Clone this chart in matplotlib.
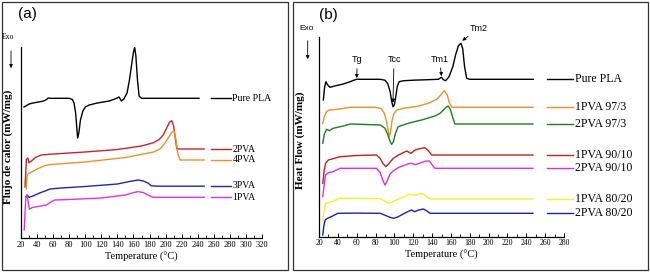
import matplotlib
matplotlib.use('Agg')
import matplotlib.pyplot as plt
from matplotlib.patches import Rectangle
from matplotlib.ticker import MultipleLocator

# ---------------- panel (a) data: temperature (°C) vs stacked heat flow ----------------
a_pla_t = [23.7, 26, 30, 35, 42, 48, 51, 54, 56, 60, 70, 80, 84, 86, 88, 89.5, 90.5, 92, 94, 97,
           100, 105, 115, 130, 139, 142, 145, 148, 152, 155, 158, 160, 161.5, 163, 165, 167, 170, 200, 241.6]
a_pla_y = [131, 132, 134, 135, 136, 137, 138, 140, 139.7, 139.7, 139.7, 139.7, 138.5, 135, 125, 110, 100, 105, 118, 127,
           131, 133, 135, 137, 139.7, 141, 137, 139, 145, 158, 175, 186, 190.7, 182, 158, 142, 139.7, 139.7, 139.7]

a_2pva_t = [25, 26.7, 28.5, 30, 33, 38, 45, 60, 100, 140, 170, 185, 192, 197, 202, 205, 207.6, 210, 212, 214, 218, 248]
a_2pva_y = [51, 78.7, 80, 75.3, 77, 80.5, 83, 84, 86, 88.5, 92, 95.3, 98.5, 103, 111, 116, 117.3, 112, 100, 89, 89, 89]

a_4pva_t = [26.7, 27.5, 29, 31.7, 40, 50, 60, 100, 150, 185, 193, 199, 204, 208, 210.5, 213, 215, 218, 248]
a_4pva_y = [49, 62, 64.5, 65.3, 69, 72.5, 73.7, 76, 80.5, 86, 89, 94.7, 101, 106, 107.3, 98, 85, 78, 78]

a_3pva_t = [26, 27.5, 30, 35, 44, 50, 56, 70, 100, 140, 155, 166, 172, 178, 182, 190, 200, 248]
a_3pva_y = [41.3, 43, 40.7, 42, 45.3, 47, 49, 50, 51.5, 54, 56.5, 58, 57, 55, 52.3, 51.8, 51.8, 51.8]

a_1pva_t = [24, 25, 26, 27.5, 29, 30.5, 34, 40, 48, 52, 56, 62, 80, 120, 150, 160, 166, 172, 178, 184, 195, 248]
a_1pva_y = [8, 25, 40, 43, 36, 28.7, 30.5, 31.3, 32.5, 33, 35.5, 38, 38.5, 40, 43, 45.5, 46.3, 45.5, 43, 40.7, 40.7, 40.7]

a_labels = ['Pure PLA', '2PVA', '4PVA', '3PVA', '1PVA']
a_levels = [139.7, 89, 78, 52.3, 40.7]
a_colors = ['black', '#c4262e', '#e8922c', '#2424b0', '#e033e0']

# ---------------- panel (b) data ----------------
b_pla_t = [24.6, 26, 27.4, 29, 31.7, 36.6, 45, 53, 57, 60, 70, 85, 90, 93, 95.5, 97, 98.5, 100, 101.5, 103,
           105, 110, 120, 135, 146.6, 150, 152, 154.4, 158, 162, 165, 168, 170.7, 172.5, 174.5, 176.7, 180, 200, 247.4]
b_pla_y = [136.7, 150, 155, 152, 149.4, 150.7, 152.5, 155, 156.5, 157.4, 157.4, 157.4, 156.5, 153, 145, 136, 130, 132, 140, 150,
           155, 156, 156.5, 157, 157.4, 159.4, 157, 156, 160, 170, 182, 191, 193.4, 188, 170, 158.4, 157.4, 157.4, 157.4]

b_1pva97_t = [24, 25.5, 28, 31, 40, 53, 60, 80, 86, 89, 91.5, 93, 94.6, 96, 97.5, 99.5, 102.4, 110, 125, 136,
              145, 149, 153, 156, 158, 160.8, 165, 247]
b_1pva97_y = [113.4, 120, 125, 126.7, 127.5, 129.4, 129.4, 129.4, 128, 124, 116, 108, 100, 105, 116, 123, 126.7, 128.5, 130.5, 133.4,
              137.4, 141.5, 146, 142, 135, 129.4, 129.4, 129.4]

b_2pva97_t = [24, 25.5, 28, 31, 35, 45, 53, 70, 85, 90, 93, 95.5, 97.1, 99, 101, 104, 115, 130, 143, 148.4,
              152, 155, 157.2, 159.5, 162, 164.3, 170, 247]
b_2pva97_y = [93.4, 102, 107.4, 106, 108.4, 110.5, 112.7, 112.2, 111.7, 108.5, 102, 95, 92.4, 95, 103, 110, 113.5, 117, 120.7, 123.4,
              126.5, 129.5, 130.7, 127, 119, 112.7, 112.7, 112.7]

b_1pva90_t = [24, 25.5, 27, 30, 35, 42.3, 60, 81.2, 85, 88, 91, 94, 98.9, 104, 109.4, 113, 117.6, 121.9, 127, 132.5,
              136, 139.6, 145, 247]
b_1pva90_y = [53.4, 66, 73.4, 76.7, 78, 80, 81.2, 81.7, 78, 73, 70, 73, 78.4, 81.5, 84, 85.7, 83.4, 86.7, 88, 89,
              86, 81.7, 81.7, 81.7]

b_2pva90_t = [24, 25.5, 27, 30, 35, 42.3, 60, 81, 85, 87.5, 90, 92.5, 95, 98.9, 105, 111, 115, 118.3, 122.6, 128,
              133, 137, 140, 143, 150, 247]
b_2pva90_y = [40, 52, 61.7, 64, 65, 68.4, 68.4, 68.4, 64, 57, 51.7, 56, 62, 66, 69.5, 71.5, 73, 73.4, 72, 74,
              75.5, 75.7, 72, 68.4, 68.4, 68.4]

b_1pva80_t = [24, 25.5, 27, 30, 35, 42, 60, 85, 90, 93.2, 97, 104, 111, 115, 118.3, 121, 125, 129, 132, 135,
              139, 145, 247]
b_1pva80_y = [16.7, 27, 33.4, 34, 35.5, 38.4, 38.4, 38, 35.5, 33.5, 34.5, 37.5, 40, 42, 42.5, 41, 42.5, 43, 42, 39,
              37.7, 37.7, 37.7]

b_2pva80_t = [24, 25, 26.5, 29, 33, 40, 60, 85, 90, 95, 98.9, 103, 108, 113, 118.3, 121.5, 125, 130.8, 134, 137.8,
              145, 247]
b_2pva80_y = [1.7, 10, 16.7, 18.4, 20, 23.4, 23.6, 23.4, 21.5, 19.5, 18.4, 19.5, 22, 24.5, 26.7, 25, 26.5, 27.7, 26, 23.4,
              23.4, 23.4]

b_labels = ['Pure PLA', '1PVA 97/3', '2PVA 97/3', '1PVA 90/10', '2PVA 90/10', '1PVA 80/20', '2PVA 80/20']
b_levels = [157.4, 129.4, 112.7, 81.7, 68.4, 37.7, 23.4]
b_colors = ['black', '#ea8f2a', '#1c7f1c', '#c21f1f', '#dd2fdd', '#f2f22a', '#1f1fb4']

# transition markers on pure PLA in (b): label, text pos, arrow tip
marks = ['Tg', 'Tcc', 'Tm1', 'Tm2']
mark_text = [(60.7, 176.7), (99.6, 176.7), (148, 177.4), (190, 208.4)]
mark_tip = [(60, 158.5), (98.5, 134), (150, 160.5), (172, 196)]

SERIF = ['Liberation Serif', 'DejaVu Serif']
SANS = ['Liberation Sans', 'DejaVu Sans']

W, H = 650, 273
fig = plt.figure(figsize=(W / 100, H / 100), dpi=100)


def px_box(x0, y0, x1, y1):
    # pixel box (top-left origin) -> figure fraction rect
    return [x0 / W, 1 - y1 / H, (x1 - x0) / W, (y1 - y0) / H]


# panel frames
for x0, x1 in [(2, 288), (293, 648)]:
    r = px_box(x0, 2, x1, 270)
    fig.patches.append(Rectangle((r[0], r[1]), r[2], r[3], transform=fig.transFigure,
                                 fill=False, edgecolor='#333333', linewidth=0.9))


def style_axes(ax, xmax, ylabel, ylab_pos, tick_size):
    for s in ['top', 'right']:
        ax.spines[s].set_visible(False)
    for s in ['left', 'bottom']:
        ax.spines[s].set_linewidth(0.9)
    ax.set_yticks([])
    ax.set_xlim(20, xmax)
    ax.xaxis.set_major_locator(MultipleLocator(20))
    ax.xaxis.set_minor_locator(MultipleLocator(10))
    ax.tick_params(axis='x', which='major', direction='in', length=3, width=0.7, pad=2,
                   labelsize=tick_size)
    ax.tick_params(axis='x', which='minor', direction='in', length=2, width=0.6)
    for lab in ax.get_xticklabels():
        lab.set_family(SERIF)
    ax.set_xlabel('Temperature (°C)', family=SERIF, fontsize=7.5, labelpad=2)
    ax.set_ylabel(ylabel, family=SERIF, fontsize=8, fontweight='bold')
    ax.yaxis.set_label_coords(*ylab_pos)
    ax.patch.set_alpha(0)


# ---------------- panel (a) ----------------
axa = fig.add_axes(px_box(21, 47, 262, 238))
a_series = [(a_pla_t, a_pla_y), (a_2pva_t, a_2pva_y), (a_4pva_t, a_4pva_y),
            (a_3pva_t, a_3pva_y), (a_1pva_t, a_1pva_y)]
for (t, y), c in zip(a_series, a_colors):
    axa.plot(t, y, color=c, lw=1.0)
for lab, lev, c in zip(a_labels, a_levels, a_colors):
    axa.plot([256, 281], [lev, lev], color=c, lw=1.0, clip_on=False)
    axa.text(283, lev, lab, family=SERIF, fontsize=7, va='center', ha='left')
axa.set_ylim(0, 191)
style_axes(axa, 320, 'Flujo de calor (mW/mg)', (-0.032, 0.476), 6)

# ---------------- panel (b) ----------------
axb = fig.add_axes(px_box(319, 36.7, 564, 236.7))
b_series = [(b_pla_t, b_pla_y), (b_1pva97_t, b_1pva97_y), (b_2pva97_t, b_2pva97_y),
            (b_1pva90_t, b_1pva90_y), (b_2pva90_t, b_2pva90_y),
            (b_1pva80_t, b_1pva80_y), (b_2pva80_t, b_2pva80_y)]
for (t, y), c in zip(b_series, b_colors):
    axb.plot(t, y, color=c, lw=1.0)
for lab, lev, c in zip(b_labels, b_levels, b_colors):
    axb.plot([261.5, 290], [lev, lev], color=c, lw=1.0, clip_on=False)
    axb.text(292, lev, lab, family=SERIF, fontsize=8.5, va='center', ha='left')
for m, xyt, tip in zip(marks, mark_text, mark_tip):
    axb.annotate(m, xy=tip, xytext=xyt, family=SANS, fontsize=6.5, ha='center', va='center',
                 arrowprops=dict(arrowstyle='-|>', color='black', lw=0.6,
                                 mutation_scale=5, shrinkA=1, shrinkB=0))
axb.set_ylim(0, 200)
style_axes(axb, 280, 'Heat Flow (mW/mg)', (-0.057, 0.48), 5.5)

# ---------------- panel letters and Exo arrows ----------------
fig.text(27.5 / W, 1 - 14 / H, '(a)', family=SANS, fontsize=11, ha='center', va='center')
fig.text(328.5 / W, 1 - 15 / H, '(b)', family=SANS, fontsize=11, ha='center', va='center')
fig.text(7.5 / W, 1 - 36.7 / H, 'Exo', family=SERIF, fontsize=5.5, ha='center', va='center')
fig.text(306.3 / W, 1 - 29 / H, 'Exo', family=SANS, fontsize=6, ha='center', va='center')
for x, y0, y1 in [(11, 48, 71), (307.7, 38, 62)]:
    fig.add_artist(matplotlib.patches.FancyArrowPatch(
        (x / W, 1 - y0 / H), (x / W, 1 - y1 / H), transform=fig.transFigure,
        arrowstyle='-|>', mutation_scale=5, lw=0.6, color='black'))

fig.savefig('out.png', dpi=100)
